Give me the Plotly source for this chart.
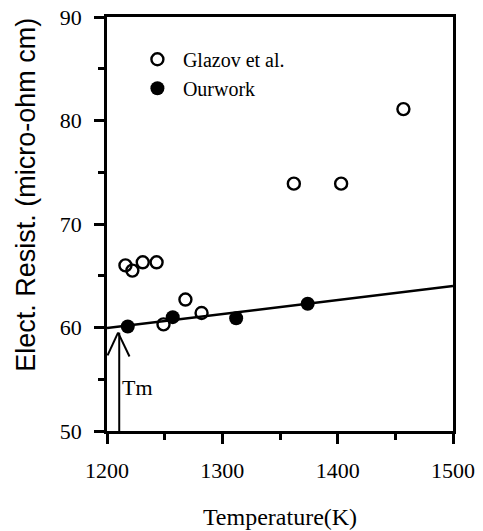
import plotly.graph_objects as go

glazov_T = [1216, 1222, 1231, 1243, 1249, 1268, 1282, 1362, 1403, 1457]
glazov_R = [66.0, 65.5, 66.3, 66.3, 60.3, 62.7, 61.4, 73.9, 73.9, 81.1]
ours_T = [1218, 1257, 1312, 1374]
ours_R = [60.1, 61.0, 60.9, 62.3]
fit_T = [1200, 1500]
fit_R = [59.95, 64.0]
tm_T = 1210.6

serif = "Liberation Serif"
fig = go.Figure()
fig.add_trace(go.Scatter(x=fit_T, y=fit_R, mode="lines", line=dict(color="black", width=2.5),
                         showlegend=False, cliponaxis=False))
fig.add_trace(go.Scatter(x=glazov_T, y=glazov_R, mode="markers", name="Glazov et al.",
                         marker=dict(symbol="circle-open", size=12, color="black", line=dict(width=2.4))))
fig.add_trace(go.Scatter(x=ours_T, y=ours_R, mode="markers", name="Ourwork",
                         marker=dict(symbol="circle", size=14, color="black")))

# Tm arrow
fig.add_shape(type="line", x0=tm_T, x1=tm_T, y0=50, y1=59.5, line=dict(color="black", width=2))
fig.add_shape(type="line", x0=1200.5, y0=57.3, x1=tm_T - 1, y1=59.5, line=dict(color="black", width=2))
fig.add_shape(type="line", x0=tm_T - 1, y0=59.5, x1=1219.5, y1=57.2, line=dict(color="black", width=2))
fig.add_annotation(x=tm_T + 0.3, y=54.2, text="Tm", showarrow=False, xanchor="left",
                   font=dict(family=serif, size=22, color="black"))

# y-axis title (placed as in the reference, slightly above centre)
fig.add_annotation(xref="paper", yref="paper", x=-0.235, y=0.57, text="Elect. Resist. (micro-ohm cm)",
                   textangle=-90, showarrow=False, xanchor="center", yanchor="middle",
                   font=dict(family="Liberation Sans", size=27, color="black"))

axis_common = dict(showgrid=False, zeroline=False, showline=True, linecolor="black", linewidth=2.5,
                   mirror=True, ticks="outside", tickwidth=2.5, ticklen=10, tickcolor="black",
                   automargin=False, tickfont=dict(family=serif, size=22, color="black"))
fig.update_xaxes(range=[1200, 1500], tickvals=[1200, 1300, 1400, 1500], ticklabelstandoff=8,
                 minor=dict(tickvals=[1250, 1350, 1450], ticks="outside", ticklen=6, tickwidth=2.5, tickcolor="black"),
                 title=dict(text="Temperature(K)", font=dict(family=serif, size=24, color="black"), standoff=27),
                 **axis_common)
fig.update_yaxes(range=[50, 90], tickvals=[50, 60, 70, 80, 90], ticklabelstandoff=8,
                 minor=dict(tickvals=[55, 65, 75, 85], ticks="outside", ticklen=6, tickwidth=2.5, tickcolor="black"),
                 **axis_common)
fig.update_layout(width=483, height=531, margin=dict(l=107, r=30, t=17, b=100, autoexpand=False),
                  plot_bgcolor="white", paper_bgcolor="white",
                  legend=dict(x=0.072, y=0.945, xanchor="left", yanchor="top", bgcolor="rgba(0,0,0,0)",
                              font=dict(family=serif, size=20, color="black"), tracegroupgap=0,
                              itemwidth=41))
fig.write_html("out.html")
